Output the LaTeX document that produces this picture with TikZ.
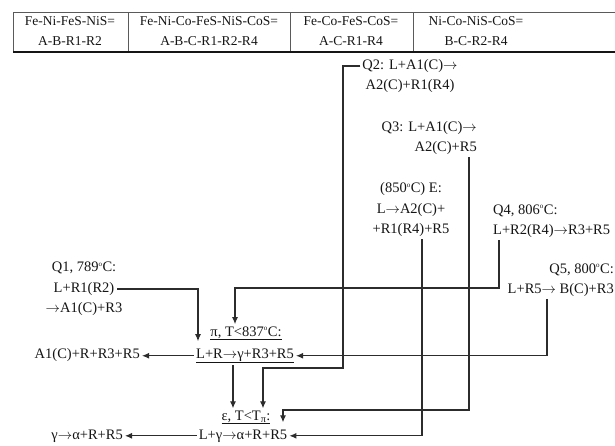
\documentclass[tikz,border=0pt]{standalone}
\usepackage{fontspec}
\setmainfont{Liberation Serif}
\usepackage{tikz}
\usetikzlibrary{arrows.meta,calc}
\definecolor{ink}{HTML}{151515}
\definecolor{rulegray}{HTML}{5A5A5A}
\tikzset{
  >=Latex,
  every node/.style={font=\fontsize{14.5}{20.5}\selectfont,text=ink},
  cell/.style={align=center,inner sep=0pt,font=\fontsize{13.5}{20}\selectfont},
  rxn/.style={align=center,inner sep=2pt},
  rxnl/.style={rxn,align=left},
  rxnr/.style={rxn,align=right},
  eqn/.style={inner sep=2pt,anchor=base},
  link/.style={-{Latex[length=7pt,width=6pt]},line width=1.1pt,draw=ink!90},
  frame/.style={draw=rulegray,line width=0.6pt},
  framebold/.style={draw=ink,line width=1.6pt}
}
\newcommand{\dg}{\textsuperscript{\scriptsize o}}
\newcommand{\ra}{\ensuremath{\rightarrow}}

\begin{document}
\begin{tikzpicture}[x=1pt,y=-1pt]
  \useasboundingbox (0,0) rectangle (615,445);
  \draw[frame] (13,12) -- (615,12);
  \draw[frame] (13,12) -- (13,52) (128,12) -- (128,52) (290,12) -- (290,52) (413,12) -- (413,52);
  \draw[framebold] (13,52) -- (615,52);
  \node[cell] (feni) at (70,31) {Fe-Ni-FeS-NiS=\\A-B-R1-R2};
  \node[cell] (fenico) at (209,31) {Fe-Ni-Co-FeS-NiS-CoS=\\A-B-C-R1-R2-R4};
  \node[cell] (feco) at (351,31) {Fe-Co-FeS-CoS=\\A-C-R1-R4};
  \node[cell] (nico) at (476,31) {Ni-Co-NiS-CoS=\\B-C-R2-R4};

  \node[rxn] (q2) at (410,76) {Q2: L+A1(C)\ra\\A2(C)+R1(R4)};
  \node[rxnr,anchor=east] (q3) at (479,138) {Q3: L+A1(C)\ra\\A2(C)+R5};
  \node[rxn] (eut) at (411,210) {(850\dg C) E:\\L\ra A2(C)+\\+R1(R4)+R5};
  \node[rxnl,anchor=west] (q4) at (491,221) {Q4, 806\dg C:\\L+R2(R4)\ra R3+R5};
  \node[rxn] (q1) at (84,289) {Q1, 789\dg C:\\L+R1(R2)\\\ra A1(C)+R3};
  \node[rxnr,anchor=east] (q5) at (616,280) {Q5, 800\dg C:\\L+R5\ra{} B(C)+R3};

  \node[eqn] (pit) at (246,336) {\underline{π, T<837\dg C:}};
  \node[eqn] (pir) at (245,358) {\underline{L+R\ra γ+R3+R5}};
  \node[eqn,anchor=base east] (a1) at (142,358) {A1(C)+R+R3+R5};
  \node[eqn] (epst) at (246,420) {\underline{ε, T<T\textsubscript{π}:}};
  \node[eqn] (epsr) at (243,439) {L+γ\ra α+R+R5};
  \node[eqn,anchor=base east] (gam) at (125,439) {γ\ra α+R+R5};

  \draw[link] (q2.west |- 0,66) -| (343,368) -| (epst.north -| 263,0);
  \draw[link] (q3.south -| 469,0) |- (283,410) -- ([yshift=5pt]epsr.north -| 283,0);
  \draw[link] (eut.south -| 422,0) |- (epsr.east);
  \draw[link] (q4.south -| 499,0) |- (235,288) -- (pit.north -| 235,0);
  \draw[link] ([xshift=-7pt]q1.east) -| ([yshift=5pt]pir.north -| 198,0);
  \draw[link] (q5.south -| 547,0) |- (pir.east);
  \draw[link] (pir.west) -- (a1.east |- pir.west);
  \draw[link] (epsr.west) -- (gam.east |- epsr.west);
  \draw[link] (pir.south -| 233,0) -- (epst.north -| 233,0);
\end{tikzpicture}
\end{document}
